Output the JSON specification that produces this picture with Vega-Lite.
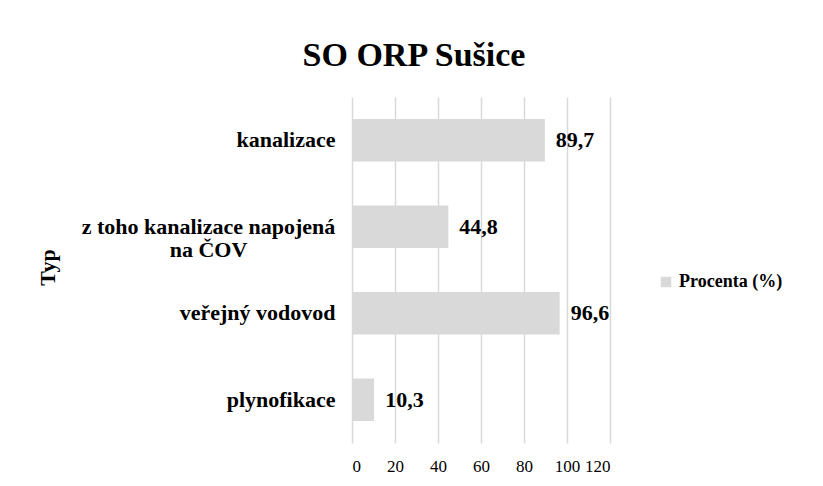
{
  "$schema": "https://vega.github.io/schema/vega-lite/v6.json",
  "width": 258,
  "height": 346,
  "autosize": {"type": "none"},
  "padding": {"left": 352, "top": 97, "right": 213, "bottom": 43},
  "background": "white",
  "title": {
    "text": "SO ORP Sušice",
    "font": "Liberation Serif",
    "fontSize": 34,
    "fontWeight": "bold",
    "color": "#000000",
    "anchor": "middle",
    "dx": -67,
    "offset": 24
  },
  "data": {
    "values": [
      {"Typ": "kanalizace", "Procenta": 89.7, "label": "89,7", "series": "Procenta (%)"},
      {"Typ": "z toho kanalizace napojená na ČOV", "Procenta": 44.8, "label": "44,8", "series": "Procenta (%)"},
      {"Typ": "veřejný vodovod", "Procenta": 96.6, "label": "96,6", "series": "Procenta (%)"},
      {"Typ": "plynofikace", "Procenta": 10.3, "label": "10,3", "series": "Procenta (%)"}
    ]
  },
  "encoding": {
    "y": {
      "field": "Typ",
      "type": "nominal",
      "sort": null,
      "scale": {"paddingInner": 0.51, "paddingOuter": 0.255},
      "axis": {
        "title": "Typ",
        "titleFont": "Liberation Serif",
        "titleFontSize": 22,
        "titleFontWeight": "bold",
        "titleColor": "#000000",
        "titleAngle": 270,
        "titleX": -305,
        "titleY": 170,
        "titleAlign": "center",
        "titleBaseline": "middle",
        "labelFont": "Liberation Serif",
        "labelFontSize": 22,
        "labelFontWeight": "bold",
        "labelColor": "#000000",
        "labelAlign": {"condition": {"test": "datum.value == 'z toho kanalizace napojená na ČOV'", "value": "center"}, "value": "right"},
        "labelPadding": {"condition": {"test": "datum.value == 'z toho kanalizace napojená na ČOV'", "value": 144}, "value": 17},
        "labelLimit": 400,
        "labelLineHeight": 23,
        "labelExpr": "datum.value == 'z toho kanalizace napojená na ČOV' ? ['z toho kanalizace napojená', 'na ČOV'] : datum.label",
        "domain": false,
        "ticks": false,
        "grid": false
      }
    }
  },
  "layer": [
    {
      "mark": {"type": "bar", "color": "#d9d9d9"},
      "encoding": {
        "x": {
          "field": "Procenta",
          "type": "quantitative",
          "scale": {"domain": [0, 120], "nice": false},
          "axis": {
            "title": null,
            "values": [0, 20, 40, 60, 80, 100, 120],
            "labelFont": "Liberation Serif",
            "labelFontSize": 17,
            "labelColor": "#000000",
            "labelPadding": 15,
            "grid": true,
            "gridColor": "#d9d9d9",
            "gridWidth": 1.5,
            "domain": false,
            "ticks": false
          }
        },
        "color": {
          "field": "series",
          "type": "nominal",
          "scale": {"range": ["#d9d9d9"]},
          "legend": {
            "title": null,
            "orient": "none",
            "legendX": 305,
            "legendY": 176,
            "symbolType": "square",
            "symbolSize": 110,
            "labelFont": "Liberation Serif",
            "labelFontSize": 18,
            "labelFontWeight": "bold",
            "labelColor": "#000000",
            "labelOffset": 4
          }
        }
      }
    },
    {
      "mark": {
        "type": "text",
        "align": "left",
        "baseline": "middle",
        "dx": 11,
        "font": "Liberation Serif",
        "fontSize": 22,
        "fontWeight": "bold",
        "color": "#000000"
      },
      "encoding": {
        "x": {"field": "Procenta", "type": "quantitative"},
        "text": {"field": "label"}
      }
    }
  ],
  "config": {"view": {"stroke": null}}
}
